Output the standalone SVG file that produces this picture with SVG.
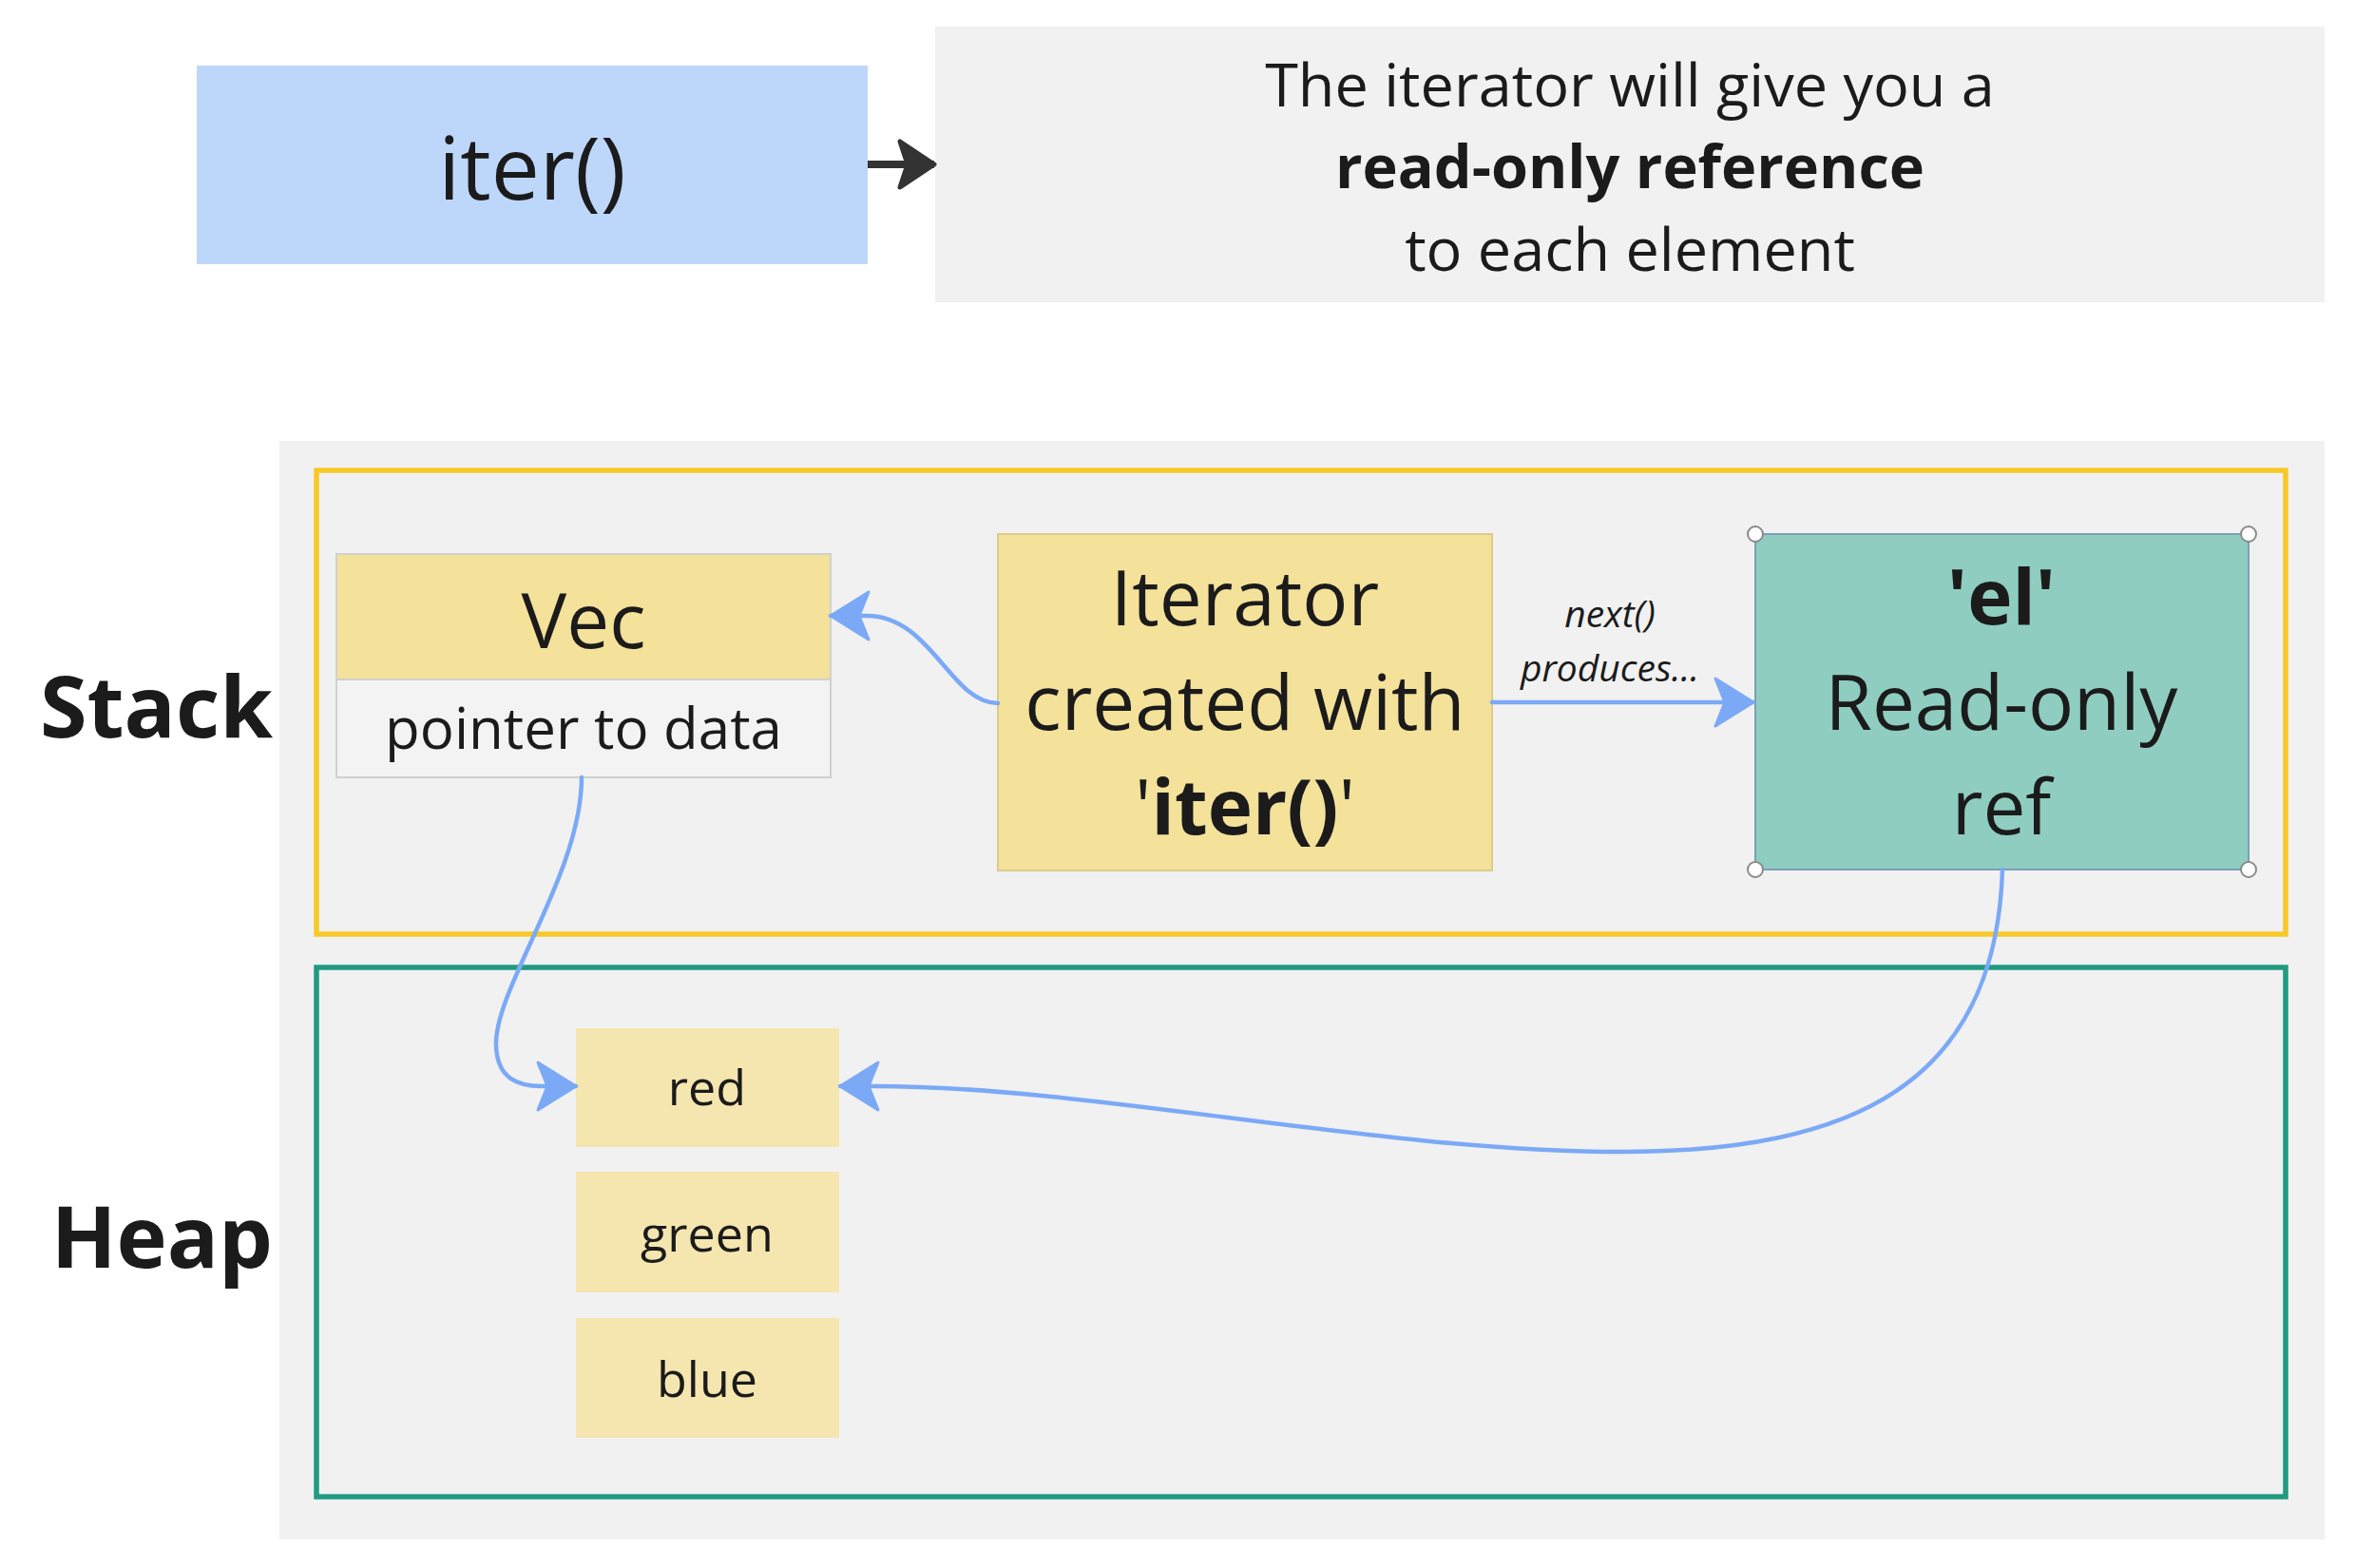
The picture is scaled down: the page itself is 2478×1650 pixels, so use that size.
<svg xmlns="http://www.w3.org/2000/svg" width="2478" height="1650" viewBox="0 0 2478 1650">
<defs>
<style>
text { font-family: "Open Sans", "Noto Sans", sans-serif; fill: #1b1b1b; }
.c { text-anchor: middle; }
.b { font-weight: bold; }
.conn { fill: none; stroke: #7ba9f6; stroke-width: 4.5; stroke-linecap: round; }
.yel { fill: #f4e19a; stroke: #dccb8c; stroke-width: 2; }
.heapitem { fill: #f5e6b0; }
.handle { fill: #ffffff; stroke: #8a8a8a; stroke-width: 2; }
</style>
<marker id="ab" markerUnits="userSpaceOnUse" markerWidth="60" markerHeight="60" viewBox="-45 -30 50 60" refX="0" refY="0" orient="auto">
<path d="M0,0 L-40,-25 L-30,0 L-40,25 Z" fill="#7ba9f6" stroke="#7ba9f6" stroke-width="3" stroke-linejoin="round"/>
</marker>
<marker id="ad" markerUnits="userSpaceOnUse" markerWidth="60" markerHeight="70" viewBox="-45 -35 50 70" refX="0" refY="0" orient="auto">
<path d="M0,0 L-36,-24 L-28,0 L-36,24 Z" fill="#333333" stroke="#333333" stroke-width="5" stroke-linejoin="round"/>
</marker>
</defs>
<rect width="2478" height="1650" fill="#ffffff"/>

<g id="iter-box">
<rect x="207" y="69" width="706" height="209" fill="#bdd7fb"/>
<text x="560" y="210" class="c" font-size="91">iter()</text>
</g>

<g id="description">
<rect x="984" y="28" width="1462" height="290" fill="#f1f1f1"/>
<text x="1715" y="112" class="c" font-size="63">The iterator will give you a</text>
<text x="1715" y="198" class="c b" font-size="63">read-only reference</text>
<text x="1715" y="285" class="c" font-size="63">to each element</text>
</g>

<g id="memory-panel">
<rect x="294" y="464" width="2152" height="1156" fill="#f1f1f1"/>
</g>

<g id="stack-frame">
<rect x="333" y="495" width="2072" height="488" fill="none" stroke="#f7c928" stroke-width="5.5"/>
<text x="287" y="776" font-size="90" class="b" text-anchor="end">Stack</text>
</g>

<g id="heap-frame">
<rect x="333" y="1018" width="2072" height="557" fill="none" stroke="#219a80" stroke-width="5.5"/>
<text x="287" y="1334" font-size="90" class="b" text-anchor="end">Heap</text>
</g>

<g id="vec">
<rect x="354" y="583" width="520" height="132" fill="#f4e19a" stroke="#d0d0d0" stroke-width="2"/>
<rect x="354" y="715" width="520" height="103" fill="#f3f3f3" stroke="#d0d0d0" stroke-width="2"/>
<text x="614" y="682" class="c" font-size="80">Vec</text>
<text x="614" y="788" class="c" font-size="60">pointer to data</text>
</g>

<g id="iterator">
<rect x="1050" y="562" width="520" height="354" class="yel"/>
<text x="1310" y="658" class="c" font-size="80">Iterator</text>
<text x="1310" y="768" class="c" font-size="80">created with</text>
<text x="1310" y="878" class="c" font-size="80">'<tspan class="b">iter()</tspan>'</text>
</g>

<g id="el">
<rect x="1847" y="562" width="519" height="353" fill="#8fcdc1" stroke="#7a9fb6" stroke-width="2"/>
<text x="2106" y="657" class="c b" font-size="80">'el'</text>
<text x="2106" y="768" class="c" font-size="80">Read-only</text>
<text x="2106" y="878" class="c" font-size="80">ref</text>
<circle cx="1847" cy="562" r="8" class="handle"/>
<circle cx="2366" cy="562" r="8" class="handle"/>
<circle cx="1847" cy="915" r="8" class="handle"/>
<circle cx="2366" cy="915" r="8" class="handle"/>
</g>

<g id="heap-red">
<rect x="606" y="1082" width="277" height="125" class="heapitem"/>
<text x="744" y="1163" class="c" font-size="52">red</text>
</g>
<g id="heap-green">
<rect x="606" y="1233" width="277" height="127" class="heapitem"/>
<text x="744" y="1317" class="c" font-size="52">green</text>
</g>
<g id="heap-blue">
<rect x="606" y="1387" width="277" height="126" class="heapitem"/>
<text x="744" y="1470" class="c" font-size="52">blue</text>
</g>

<g id="connectors">
<path d="M913,173 L983,173" fill="none" stroke="#333333" stroke-width="8" marker-end="url(#ad)"/>
<path class="conn" d="M1050,740 C1000,740 980,648 912,648 L874,648" marker-end="url(#ab)"/>
<path class="conn" d="M1570,739 L1845,739" marker-end="url(#ab)"/>
<text x="1694" y="660" class="c" font-size="39" font-style="italic">next()</text>
<text x="1694" y="717" class="c" font-size="39" font-style="italic">produces...</text>
<path class="conn" d="M612,818 C612,920 520,1040 522,1100 C523,1135 545,1143 570,1143 L606,1143" marker-end="url(#ab)"/>
<path class="conn" d="M2107,915 C2100,1140 1950,1212 1707,1212 C1450,1212 1150,1143 921,1143 L884,1143" marker-end="url(#ab)"/>
</g>
</svg>
